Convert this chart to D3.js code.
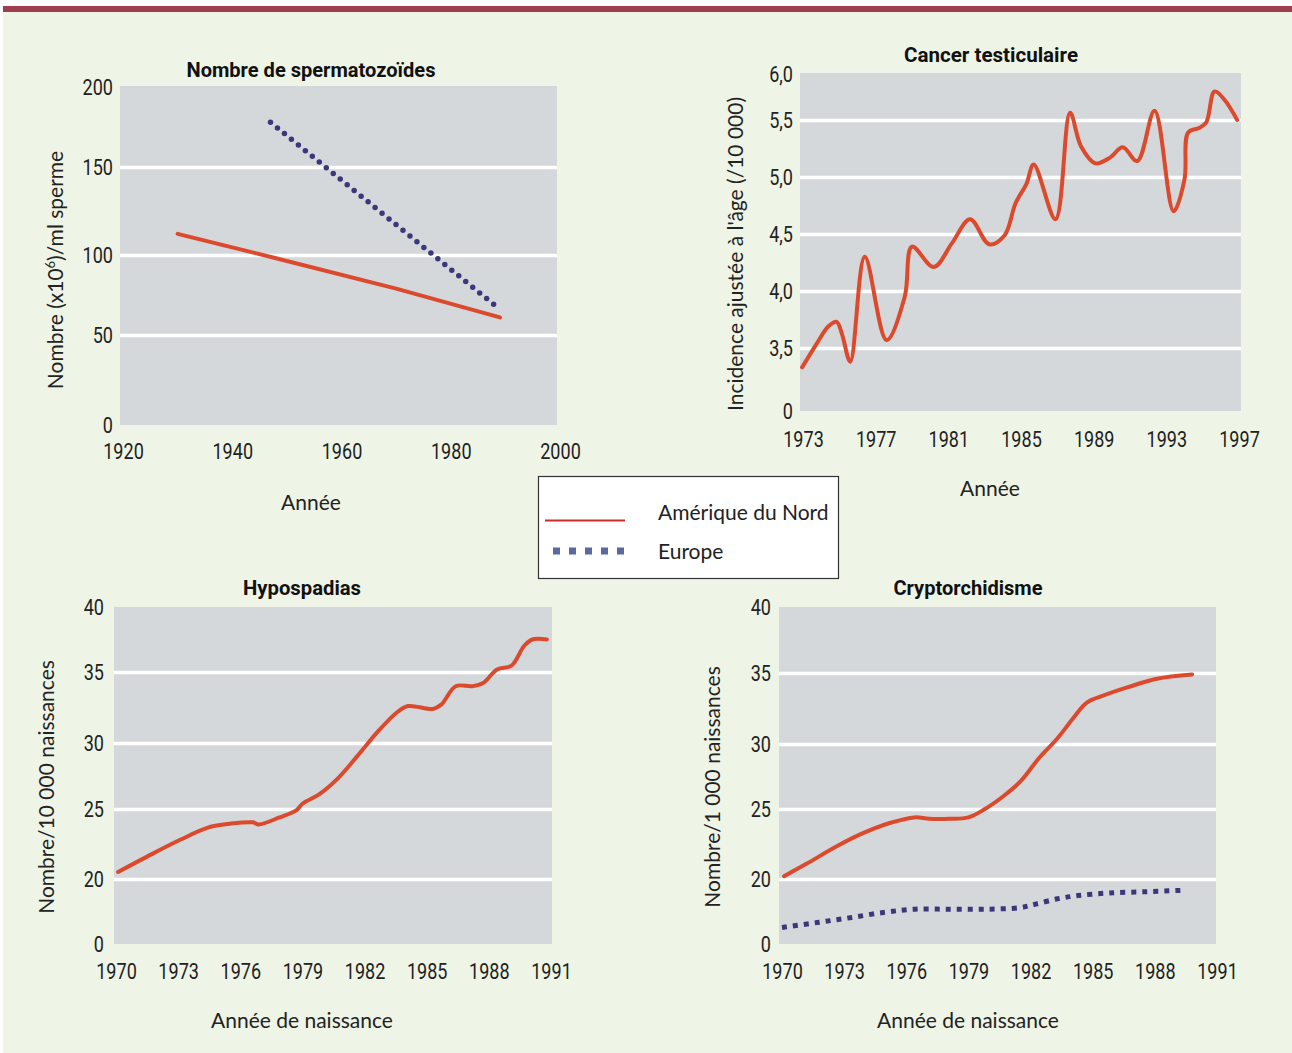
<!DOCTYPE html>
<html>
<head>
<meta charset="utf-8">
<script src="https://cdn.jsdelivr.net/npm/d3@7"></script>
<style>
  html, body { margin: 0; padding: 0; background: #ffffff; }
  svg { display: block; }
  .tick-num { font-family: Roboto, "DejaVu Sans", sans-serif; font-size: 22px; fill: #222; }
  .lbl { font-family: Lato, "Open Sans", sans-serif; font-size: 21px; fill: #222; }
  .ttl { font-family: Roboto, "DejaVu Sans", sans-serif; font-weight: bold; font-size: 20px; fill: #111; }
</style>
</head>
<body>
<svg id="chart" width="1292" height="1053"></svg>
<script>
// ---------------- DATA ----------------
const seriesNames = ["Amérique du Nord", "Europe"];

// Nombre de spermatozoïdes
const spermXTicks = [1920, 1940, 1960, 1980, 2000];
const spermYTicks = [0, 50, 100, 150, 200];
const spermNA = [[1930, 112], [1948, 98], [1970, 79], [1989, 61]];
const spermEU = [[1947, 178], [1989, 66]];

// Cancer testiculaire
const cancerXTicks = [1973, 1977, 1981, 1985, 1989, 1993, 1997];
const cancerYTicks = [0, 3.5, 4.0, 4.5, 5.0, 5.5, 6.0];
const cancerYLabels = ["0", "3,5", "4,0", "4,5", "5,0", "5,5", "6,0"];
const cancerYears = [1972.95, 1973.8, 1974.4, 1974.85, 1975.15, 1975.6, 1976.4, 1977.6, 1978.6, 1979.0, 1980.2, 1981.2, 1982.2, 1983.25, 1984.1, 1984.7, 1985.3, 1985.7, 1986.9, 1987.7, 1988.3, 1989.1, 1989.9, 1990.6, 1991.4, 1992.35, 1993.4, 1994.0, 1994.2, 1994.8, 1995.2, 1995.65, 1996.2, 1996.9];
const cancerNA = [3.33, 3.55, 3.69, 3.73, 3.62, 3.38, 4.30, 3.57, 3.95, 4.39, 4.21, 4.42, 4.63, 4.41, 4.49, 4.77, 4.94, 5.11, 4.63, 5.58, 5.27, 5.12, 5.17, 5.26, 5.14, 5.60, 4.70, 4.98, 5.39, 5.43, 5.48, 5.81, 5.72, 5.50];

// Hypospadias
const birthXTicks = [1970, 1973, 1976, 1979, 1982, 1985, 1988, 1991];
const birthYTicks = [0, 20, 25, 30, 35, 40];
const hypoYears = [1970.1, 1971.5, 1973.1, 1974.5, 1975.5, 1976.6, 1976.9, 1977.9, 1978.7, 1979.0, 1979.8, 1980.7, 1981.7, 1982.7, 1983.6, 1984.1, 1985.3, 1985.7, 1986.4, 1987.2, 1987.7, 1988.4, 1989.1, 1989.7, 1990.1, 1990.8];
const hypoNA = [20.5, 21.6, 22.8, 23.7, 23.95, 24.05, 23.9, 24.4, 24.9, 25.4, 26.1, 27.3, 29.1, 30.9, 32.2, 32.6, 32.4, 32.7, 34.0, 34.0, 34.2, 35.2, 35.5, 37.0, 37.5, 37.5];

// Cryptorchidisme
const cryptoYearsNA = [1970.1, 1971.2, 1972.6, 1973.8, 1975.2, 1976.4, 1977.1, 1978.1, 1979.0, 1979.8, 1980.7, 1981.5, 1982.4, 1983.3, 1984.1, 1984.7, 1985.5, 1986.7, 1988.1, 1989.8];
const cryptoNA = [20.2, 21.1, 22.3, 23.2, 24.0, 24.4, 24.3, 24.3, 24.4, 25.0, 26.0, 27.1, 28.9, 30.4, 31.9, 32.9, 33.4, 34.0, 34.6, 34.9];
const cryptoYearsEU = [1970.0, 1971.7, 1973.3, 1975.0, 1976.4, 1978.1, 1979.8, 1981.5, 1982.2, 1983.3, 1984.3, 1985.8, 1987.6, 1989.3];
const cryptoEU = [5.1, 6.6, 8.1, 9.8, 10.7, 10.7, 10.7, 11.2, 12.2, 13.9, 14.9, 15.7, 16.1, 16.5];

// ---------------- STYLE ----------------
const PAGE_BG = "#eef4e6";
const PLOT_BG = "#d5d8db";
const RED = "#dc4a2d";
const NAVY = "#3a387a";
const LEG_BLUE = "#5b68a6";
const DIGIT_SCALE = 0.82;

const svg = d3.select("#chart");
svg.append("rect").attr("x", 0).attr("y", 0).attr("width", 1292).attr("height", 1053).attr("fill", "#ffffff");
svg.append("rect").attr("x", 3).attr("y", 12).attr("width", 1289).attr("height", 1041).attr("fill", PAGE_BG);
svg.append("rect").attr("x", 3).attr("y", 6).attr("width", 1289).attr("height", 6).attr("fill", "#9f3c4d");

function styleTicks(a) {
  a.select(".domain").remove();
  a.attr("font-size", null).attr("font-family", null);
  a.selectAll("text").attr("class", "tick-num").attr("fill", null)
    .attr("transform", `scale(${DIGIT_SCALE},1)`);
}

function panel(cfg) {
  const g = svg.append("g");
  const x = d3.scaleLinear().domain(cfg.xDomain).range(cfg.xRange);
  const y = d3.scaleLinear().domain(cfg.yDomain).range(cfg.yRange);

  // plot background
  g.append("rect")
    .attr("x", cfg.box[0]).attr("y", cfg.box[1])
    .attr("width", cfg.box[2] - cfg.box[0]).attr("height", cfg.box[3] - cfg.box[1])
    .attr("fill", PLOT_BG);

  // gridlines (white), via axis
  const grid = d3.axisLeft(y).tickValues(cfg.gridValues)
    .tickSize(-(cfg.box[2] - cfg.box[0])).tickFormat("");
  g.append("g").attr("transform", `translate(${cfg.box[0]},0)`).call(grid)
    .call(a => a.select(".domain").remove())
    .call(a => a.selectAll("line").attr("stroke", "#ffffff").attr("stroke-width", 3.5));

  // y tick labels
  const yAxis = d3.axisLeft(y).tickValues(cfg.yTicks).tickSize(0).tickPadding(0)
    .tickFormat((d, i) => cfg.yLabels ? cfg.yLabels[i] : d);
  g.append("g").attr("transform", `translate(${cfg.yLabelX},0)`).call(yAxis).call(styleTicks);

  // x tick labels
  const xAxis = d3.axisBottom(x).tickValues(cfg.xTicks).tickSize(0).tickPadding(0).tickFormat(d3.format("d"));
  g.append("g").attr("transform", `translate(0,${cfg.xLabelY})`).call(xAxis).call(styleTicks)
    .call(a => a.selectAll("text").attr("dy", "0.36em"));

  // series
  cfg.series.forEach(s => {
    const line = d3.line().x(d => x(d[0])).y(d => y(d[1])).curve(s.curve || d3.curveLinear);
    g.append("path").datum(s.data)
      .attr("d", line)
      .attr("fill", "none")
      .attr("stroke", s.color)
      .attr("stroke-width", s.width)
      .attr("stroke-dasharray", s.dash || null)
      .attr("stroke-linecap", s.cap || "round")
      .attr("stroke-linejoin", "round");
  });

  // title
  g.append("text").attr("class", "ttl").attr("x", cfg.title[1]).attr("y", cfg.title[2])
    .attr("text-anchor", "middle").attr("dy", "0.36em")
    .attr("textLength", cfg.title[3]).attr("lengthAdjust", "spacingAndGlyphs")
    .text(cfg.title[0]);

  // x title
  g.append("text").attr("class", "lbl").attr("x", cfg.xTitle[1]).attr("y", cfg.xTitle[2])
    .attr("text-anchor", "middle").attr("dy", "0.35em").text(cfg.xTitle[0]);

  // y title (rotated)
  const yt = g.append("text").attr("class", "lbl")
    .attr("transform", `translate(${cfg.yTitle[1]},${cfg.yTitle[2]}) rotate(-90)`)
    .attr("text-anchor", "middle").attr("dy", "0.35em");
  cfg.yTitle[0].forEach(p => {
    const t = yt.append("tspan").text(p.t);
    if (p.sup) t.attr("baseline-shift", "super").attr("font-size", "13px");
  });
}

const zip = (a, b) => a.map((v, i) => [v, b[i]]);

// Panel A : spermatozoïdes
panel({
  xDomain: [1920, 2000], xRange: [123, 560],
  yDomain: spermYTicks, yRange: [425, 335, 255, 167, 87],
  box: [120, 86, 557, 425],
  gridValues: spermYTicks.slice(1, -1),
  yTicks: spermYTicks, yLabelX: 113,
  xTicks: spermXTicks, xLabelY: 451,
  title: ["Nombre de spermatozoïdes", 311, 70, 249],
  xTitle: ["Année", 311, 503],
  yTitle: [[{t: "Nombre (x10"}, {t: "6", sup: true}, {t: ")/ml sperme"}], 56, 270],
  series: [
    {data: spermNA, color: RED, width: 4},
    {data: spermEU, color: NAVY, width: 5.5, dash: "0 9", cap: "round"}
  ]
});

// Panel B : cancer testiculaire
panel({
  xDomain: [1973, 1997], xRange: [803, 1239],
  yDomain: [0, 3.0, 5.5, 6.0], yRange: [411, 405, 120, 74],
  box: [800, 73, 1241, 411],
  gridValues: cancerYTicks.slice(1, -1),
  yTicks: cancerYTicks, yLabels: cancerYLabels, yLabelX: 793,
  xTicks: cancerXTicks, xLabelY: 439,
  title: ["Cancer testiculaire", 991, 55, 174],
  xTitle: ["Année", 990, 489],
  yTitle: [[{t: "Incidence ajustée à l'âge (/10 000)"}], 736, 254],
  series: [
    {data: zip(cancerYears, cancerNA), color: RED, width: 4, curve: d3.curveCatmullRom.alpha(0.5)}
  ]
});

// Panel C : hypospadias
panel({
  xDomain: [1970, 1991], xRange: [116, 551],
  yDomain: birthYTicks, yRange: [944, 879, 809, 743, 672, 607],
  box: [114, 607, 552, 944],
  gridValues: birthYTicks.slice(1, -1),
  yTicks: birthYTicks, yLabelX: 104,
  xTicks: birthXTicks, xLabelY: 971,
  title: ["Hypospadias", 302, 588, 118],
  xTitle: ["Année de naissance", 302, 1021],
  yTitle: [[{t: "Nombre/10 000 naissances"}], 47, 787],
  series: [
    {data: zip(hypoYears, hypoNA), color: RED, width: 4, curve: d3.curveCatmullRom.alpha(0.5)}
  ]
});

// Panel D : cryptorchidisme
panel({
  xDomain: [1970, 1991], xRange: [782, 1217],
  yDomain: birthYTicks, yRange: [944, 879, 809, 744, 673, 607],
  box: [779, 607, 1216, 944],
  gridValues: birthYTicks.slice(1, -1),
  yTicks: birthYTicks, yLabelX: 771,
  xTicks: birthXTicks, xLabelY: 971,
  title: ["Cryptorchidisme", 968, 588, 149],
  xTitle: ["Année de naissance", 968, 1021],
  yTitle: [[{t: "Nombre/1 000 naissances"}], 713, 787],
  series: [
    {data: zip(cryptoYearsNA, cryptoNA), color: RED, width: 4, curve: d3.curveCatmullRom.alpha(0.5)},
    {data: zip(cryptoYearsEU, cryptoEU), color: NAVY, width: 5, dash: "5 6", cap: "butt", curve: d3.curveCatmullRom.alpha(0.5)}
  ]
});

// Legend
const leg = svg.append("g");
leg.append("rect").attr("x", 538.5).attr("y", 476.5).attr("width", 300).attr("height", 102)
  .attr("fill", "#ffffff").attr("stroke", "#333").attr("stroke-width", 1.2);
leg.append("line").attr("x1", 545).attr("x2", 625).attr("y1", 520.5).attr("y2", 520.5)
  .attr("stroke", "#d22a2a").attr("stroke-width", 2);
leg.append("line").attr("x1", 553).attr("x2", 625).attr("y1", 551).attr("y2", 551)
  .attr("stroke", LEG_BLUE).attr("stroke-width", 7).attr("stroke-dasharray", "7 9");
leg.selectAll("text.leg").data(seriesNames).join("text")
  .attr("class", "lbl").attr("x", 658).attr("y", (d, i) => 513 + i * 39)
  .attr("dy", "0.35em").text(d => d);
</script>
</body>
</html>
